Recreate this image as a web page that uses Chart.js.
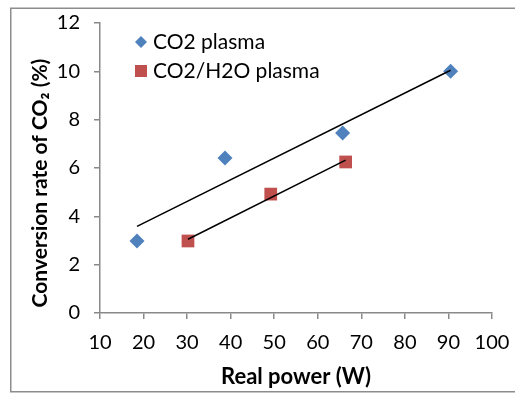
<!DOCTYPE html>
<html>
<head>
<meta charset="utf-8">
<script src="https://cdn.jsdelivr.net/npm/chart.js@4/dist/chart.umd.min.js"></script>
<style>
  body { margin: 0; background: #fff; }
</style>
</head>
<body>
<canvas id="chart" width="515" height="394"></canvas>
<script>
// values
const co2Power = [18.5, 38.7, 65.7, 90.5];
const co2Conv = [2.98, 6.41, 7.45, 10.0];
const mixPower = [30.2, 49.2, 66.4];
const mixConv = [2.98, 4.92, 6.25];
const seriesNames = ["CO2 plasma", "CO2/H2O plasma"];
const xTicks = [10, 20, 30, 40, 50, 60, 70, 80, 90, 100];
const yTicks = [0, 2, 4, 6, 8, 10, 12];
const xTitle = "Real power (W)";
const yTitle = "Conversion rate of CO\u2082 (%)";

const FONT = "Lato, 'Open Sans', sans-serif";
const axisGray = "#898989";

function toPoints(xs, ys) {
  return xs.map((x, i) => ({ x: x, y: ys[i] }));
}

// linear trendline (least squares) over the span of the series
function trendline(xs, ys) {
  const n = xs.length;
  const mx = xs.reduce((a, b) => a + b, 0) / n;
  const my = ys.reduce((a, b) => a + b, 0) / n;
  let sxy = 0, sxx = 0;
  for (let i = 0; i < n; i++) {
    sxy += (xs[i] - mx) * (ys[i] - my);
    sxx += (xs[i] - mx) * (xs[i] - mx);
  }
  const k = sxy / sxx, b = my - k * mx;
  const x0 = Math.min(...xs), x1 = Math.max(...xs);
  return [{ x: x0, y: b + k * x0 }, { x: x1, y: b + k * x1 }];
}

const decor = {
  id: "decor",
  beforeDraw(chart) {
    const ctx = chart.ctx;
    ctx.save();
    ctx.fillStyle = "#fff";
    ctx.fillRect(0, 0, chart.width, chart.height);
    ctx.strokeStyle = "#8c8c8c";
    ctx.lineWidth = 1.5;
    ctx.strokeRect(10.75, 8.25, 600, 383.5);
    ctx.restore();
  },
  afterDraw(chart) {
    const ctx = chart.ctx;
    const area = chart.chartArea;
    ctx.save();
    ctx.fillStyle = "#000";
    // axis titles
    ctx.textAlign = "center";
    ctx.textBaseline = "middle";
    ctx.font = "bold 22px " + FONT;
    ctx.fillText(xTitle, (area.left + area.right) / 2, 377);
    ctx.font = "bold 21px " + FONT;
    ctx.translate(40, 183);
    ctx.rotate(-Math.PI / 2);
    ctx.fillText(yTitle, 0, 0);
    ctx.restore();

    // legend inside plot area
    ctx.save();
    ctx.font = "21px " + FONT;
    ctx.textAlign = "left";
    ctx.textBaseline = "middle";
    const lx = 141, rows = [42, 71];
    chart.data.datasets.filter(d => !d.isTrend).forEach((d, i) => {
      const y = rows[i];
      ctx.fillStyle = d.backgroundColor;
      ctx.beginPath();
      if (d.pointStyle === "rectRot") {
        ctx.moveTo(lx - 6, y); ctx.lineTo(lx, y - 6);
        ctx.lineTo(lx + 6, y); ctx.lineTo(lx, y + 6);
      } else {
        ctx.rect(lx - 6, y - 6, 12, 12);
      }
      ctx.closePath();
      ctx.fill();
      ctx.fillStyle = "#000";
      ctx.fillText(d.label, 153, y);
    });
    ctx.restore();
  }
};

new Chart(document.getElementById("chart"), {
  type: "scatter",
  data: {
    datasets: [
      {
        label: "trend1", isTrend: true, type: "line",
        data: trendline(co2Power, co2Conv),
        borderColor: "#000", borderWidth: 1.5, pointRadius: 0, order: 0
      },
      {
        label: "trend2", isTrend: true, type: "line",
        data: trendline(mixPower, mixConv),
        borderColor: "#000", borderWidth: 1.5, pointRadius: 0, order: 0
      },
      {
        label: seriesNames[0],
        data: toPoints(co2Power, co2Conv),
        pointStyle: "rectRot", pointRadius: 7.5, pointBorderWidth: 0,
        backgroundColor: "#4F81BD", borderColor: "#4F81BD", order: 1
      },
      {
        label: seriesNames[1],
        data: toPoints(mixPower, mixConv),
        pointStyle: "rect", pointRadius: 9, pointBorderWidth: 0,
        backgroundColor: "#C0504D", borderColor: "#C0504D", order: 1
      }
    ]
  },
  options: {
    responsive: false,
    animation: false,
    layout: { padding: { left: 0, top: 23, right: 23, bottom: 0 } },
    plugins: { legend: { display: false }, tooltip: { enabled: false } },
    scales: {
      x: {
        type: "linear", min: xTicks[0], max: xTicks[xTicks.length - 1],
        afterBuildTicks: s => { s.ticks = xTicks.map(v => ({ value: v })); },
        afterFit: s => { s.height = 81; s.paddingLeft = 0; s.paddingRight = 0; },
        ticks: { color: "#000", font: { family: FONT, size: 20 }, padding: 12, maxRotation: 0 },
        grid: { drawOnChartArea: false, tickLength: 6, color: axisGray, lineWidth: 1.5 },
        border: { color: axisGray, width: 1.5 }
      },
      y: {
        type: "linear", min: yTicks[0], max: yTicks[yTicks.length - 1],
        afterBuildTicks: s => { s.ticks = yTicks.map(v => ({ value: v })); },
        afterFit: s => { s.width = 100; s.paddingTop = 0; s.paddingBottom = 0; },
        ticks: { color: "#000", font: { family: FONT, size: 20 }, padding: 14 },
        grid: { drawOnChartArea: false, tickLength: 6, color: axisGray, lineWidth: 1.5 },
        border: { color: axisGray, width: 1.5 }
      }
    }
  },
  plugins: [decor]
});
</script>
</body>
</html>
